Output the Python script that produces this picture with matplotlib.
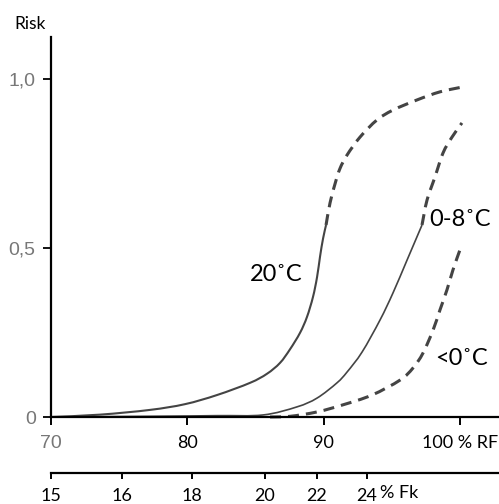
import matplotlib
matplotlib.use("Agg")
import matplotlib.pyplot as plt
from matplotlib.path import Path
from matplotlib.patches import PathPatch

# ---- data ----
rf_ticks = [70, 80, 90, 100]
rf_labels = ["70", "80", "90", "100 % RF"]
risk_ticks = [0, 0.5, 1.0]
risk_labels = ["0", "0,5", "1,0"]
fk_labels = ["15", "16", "18", "20", "22", "24"]
fk_rf_pos = [70.0, 75.21, 80.34, 85.70, 89.52, 93.18]

t20_solid_x = [70.0, 73.6, 77.26, 79.83, 82.18, 84.60, 85.85, 86.80, 87.53, 88.27,
               88.78, 89.22, 89.52, 89.74, 89.96, 90.18]
t20_solid_y = [0.0, 0.007, 0.021, 0.038, 0.065, 0.101, 0.128, 0.160, 0.200, 0.249,
               0.296, 0.355, 0.414, 0.475, 0.528, 0.568]
t20_dash_x = [90.18, 90.47, 90.84, 91.20, 91.72, 92.67, 93.92, 95.09, 96.85, 98.54, 100.15]
t20_dash_y = [0.568, 0.633, 0.690, 0.735, 0.775, 0.828, 0.879, 0.908, 0.938, 0.962, 0.976]

t08_solid_x = [70.0, 77.26, 82.18, 85.55, 88.05, 89.52, 90.98, 91.72, 92.82, 94.14, 95.09, 96.12, 97.22]
t08_solid_y = [0.0, 0.002, 0.004, 0.006, 0.030, 0.056, 0.101, 0.133, 0.192, 0.287, 0.367, 0.464, 0.568]
t08_dash_x = [97.22, 97.59, 98.17, 98.76, 99.42, 100.15]
t08_dash_y = [0.568, 0.642, 0.710, 0.781, 0.828, 0.870]

tneg_x = [86.07, 87.53, 89.52, 91.42, 93.55, 95.60, 96.56, 97.29, 98.03, 98.54, 99.05, 99.49, 100.0]
tneg_y = [0.0, 0.002, 0.015, 0.036, 0.065, 0.109, 0.145, 0.189, 0.257, 0.317, 0.376, 0.435, 0.494]

curve_labels = ["20˚C", "0-8˚C", "<0˚C"]
curve_label_pos = [(86.5, 0.422), (100.0, 0.583), (100.1, 0.172)]


def smooth_path(xs, ys):
    """Catmull-Rom spline through the given points, drawn as cubic Bezier segments."""
    pts = list(zip(xs, ys))
    n = len(pts)
    verts = [pts[0]]
    codes = [Path.MOVETO]
    for i in range(n - 1):
        p0 = pts[i - 1] if i > 0 else pts[i]
        p1 = pts[i]
        p2 = pts[i + 1]
        p3 = pts[i + 2] if i + 2 < n else pts[i + 1]
        c1 = (p1[0] + (p2[0] - p0[0]) / 6, p1[1] + (p2[1] - p0[1]) / 6)
        c2 = (p2[0] - (p3[0] - p1[0]) / 6, p2[1] - (p3[1] - p1[1]) / 6)
        verts += [c1, c2, p2]
        codes += [Path.CURVE4] * 3
    return Path(verts, codes)


# ---- figure ----
W, H = 499, 504
fig = plt.figure(figsize=(W / 100, H / 100), dpi=100)
ax = fig.add_axes([51 / W, 87 / H, 447 / W, 380 / H])
ax.set_xlim(70, 70 + 447 / 13.63)
ax.set_ylim(0, 380 / 338)

for s in ["top", "right"]:
    ax.spines[s].set_visible(False)
for s in ["left", "bottom"]:
    ax.spines[s].set_linewidth(1.6)
    ax.spines[s].set_color("black")

lc = "#444444"
dash = (0, (3.6, 2.3))
curves = [
    (t20_solid_x, t20_solid_y, 1.5, "-"),
    (t20_dash_x, t20_dash_y, 2.2, dash),
    (t08_solid_x, t08_solid_y, 1.2, "-"),
    (t08_dash_x, t08_dash_y, 2.2, dash),
    (tneg_x, tneg_y, 2.2, dash),
]
for xs, ys, lw, ls in curves:
    patch = PathPatch(smooth_path(xs, ys), facecolor="none", edgecolor=lc,
                      linewidth=lw, linestyle=ls, clip_on=False, capstyle="butt")
    ax.add_patch(patch)

for lab, (x, y) in zip(curve_labels, curve_label_pos):
    ax.text(x, y, lab, ha="center", va="center", fontsize=17,
            family=["Lato", "DejaVu Sans"], color="black")

# x axis (RF)
ax.set_xticks(rf_ticks, rf_labels)
ax.tick_params(axis="x", direction="out", length=6, width=1.4, pad=7)
for i, t in enumerate(ax.get_xticklabels()):
    if i == 0:
        t.set_family("Liberation Sans"); t.set_fontsize(14); t.set_color("#777777")
    else:
        t.set_family("Lato"); t.set_fontsize(13); t.set_color("black")

# y axis (Risk)
ax.set_yticks(risk_ticks, risk_labels)
ax.tick_params(axis="y", direction="out", length=6, width=1.3, pad=5)
for t in ax.get_yticklabels():
    t.set_family("Liberation Sans"); t.set_fontsize(14); t.set_color("#777777")

# secondary axis (Fk)
sec = ax.secondary_xaxis(-56 / 380)
sec.set_xticks(fk_rf_pos, fk_labels)
sec.tick_params(direction="out", length=4, width=1.4, pad=7)
sec.spines["bottom"].set_linewidth(1.6)
for t in sec.get_xticklabels():
    t.set_family("Lato"); t.set_fontsize(13); t.set_color("black")

fig.text(380 / W, 1 - 493 / H, "% Fk", ha="left", va="center", fontsize=13, family="Lato")
fig.text(30 / W, 1 - 24 / H, "Risk", ha="center", va="center", fontsize=12.5, family="Lato")

fig.savefig("out.png", dpi=100)
